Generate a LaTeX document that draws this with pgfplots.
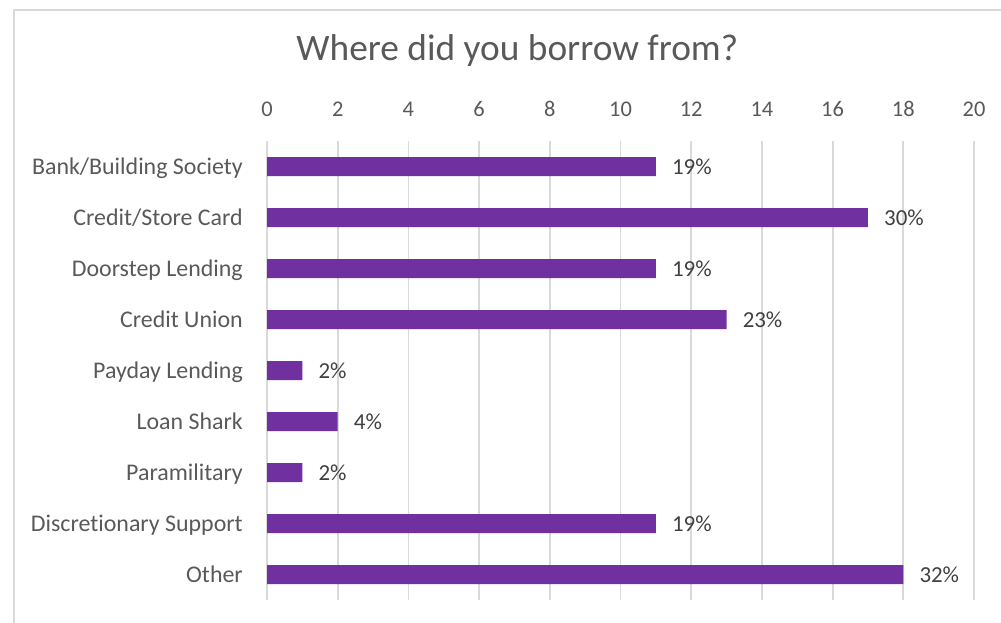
\documentclass[border=0pt]{standalone}
\usepackage{fontspec}
\setmainfont{Carlito}[Ligatures={NoCommon}]
\usepackage{pgfplots}
\usepackage{pgfplotstable}
\pgfplotsset{compat=1.18}
\definecolor{barpurple}{HTML}{7030A0}
\definecolor{gridgray}{HTML}{D9D9D9}
\definecolor{txtgray}{HTML}{595959}
\definecolor{valgray}{HTML}{404040}
\pgfplotstableread{
idx val pct
0 11 19
1 17 30
2 11 19
3 13 23
4 1 2
5 2 4
6 1 2
7 11 19
8 18 32
}\borrowdata
\begin{document}
\begin{tikzpicture}
\path[use as bounding box] (0,0) rectangle (1001bp,623bp);
\draw[gridgray, line width=1.5bp] (14bp,0) -- (14bp,613bp) -- (1001bp,613bp);
\begin{axis}[
 at={(267bp,23bp)}, anchor=south west,
 scale only axis, width=707bp, height=459bp,
 xbar, bar width=19bp,
 xmin=0, xmax=20, xtick={0,2,...,20},
 ymin=-0.5, ymax=8.5, y dir=reverse,
 ytick={0,...,8},
 yticklabels={Bank/Building Society, Credit/Store Card, Doorstep Lending, Credit Union, Payday Lending, Loan Shark, Paramilitary, Discretionary Support, {Other\hspace{5bp}}},
 xticklabel pos=top,
 axis line style={draw=none},
 major tick length=0pt,
 xmajorgrids, ymajorgrids=false,
 grid style={gridgray, line width=1.8bp},
 xticklabel style={inner sep=0pt, anchor=base, yshift=25bp, font=\fontsize{22.5}{25}\selectfont, text=txtgray},
 yticklabel style={inner sep=0pt, anchor=base east, xshift=-24bp, yshift=-7.5bp, font=\fontsize{24}{27}\selectfont, text=txtgray},
 /pgf/number format/assume math mode=true,
 title={Where did you borrow from?},
 title style={at={(0.354,1.163)}, anchor=base, font=\fontsize{37.5}{42}\selectfont, text=txtgray, inner sep=0pt},
 nodes near coords={\pgfplotspointmeta\%},
 point meta=explicit symbolic,
 nodes near coords style={anchor=west, inner sep=0pt, xshift=16bp, font=\fontsize{23}{26}\selectfont, text=valgray},
]
\addplot[fill=barpurple, draw=none] table[x=val, y=idx, meta=pct] {\borrowdata};
\end{axis}
\end{tikzpicture}
\end{document}
